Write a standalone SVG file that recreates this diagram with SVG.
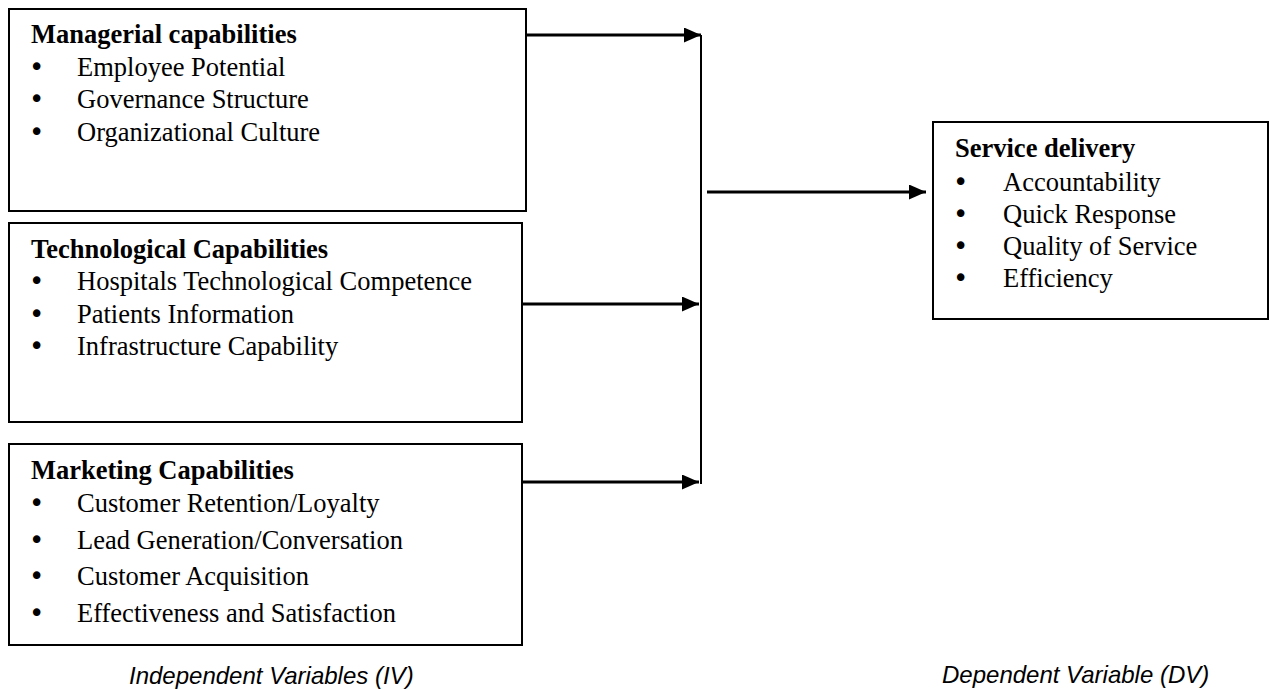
<svg xmlns="http://www.w3.org/2000/svg" width="1269" height="689" viewBox="0 0 1269 689">
<style>
.box{fill:#fff;stroke:#000;stroke-width:2}
.t{font-family:"Liberation Serif","Times New Roman",serif;font-size:26.5px;fill:#000}
.b{font-weight:bold}
.bu{font-family:"DejaVu Sans",sans-serif;font-size:26px;fill:#000}
.cap{font-family:"Liberation Sans",Arial,sans-serif;font-size:24px;font-style:italic;fill:#000}
.c{stroke:#000;stroke-width:3;fill:none}
.v{stroke:#000;stroke-width:2;fill:none}
</style>
<defs>
<marker id="ah" markerUnits="userSpaceOnUse" markerWidth="17" markerHeight="15" refX="17" refY="7.5" orient="auto">
<path d="M0,0 L17,7.5 L0,15 Z" fill="#000"/>
</marker>
</defs>
<rect width="1269" height="689" fill="#fff"/>
<g id="managerial">
<rect class="box" x="9" y="9" width="517" height="202"/>
<text class="t b" x="31" y="43">Managerial capabilities</text>
<text class="bu" x="29" y="76">•</text><text class="t" x="77" y="76">Employee Potential</text>
<text class="bu" x="29" y="108">•</text><text class="t" x="77" y="108">Governance Structure</text>
<text class="bu" x="29" y="141">•</text><text class="t" x="77" y="141">Organizational Culture</text>
</g>
<g id="technological">
<rect class="box" x="9" y="223" width="513" height="199"/>
<text class="t b" x="31" y="258">Technological Capabilities</text>
<text class="bu" x="29" y="290">•</text><text class="t" x="77" y="290">Hospitals Technological Competence</text>
<text class="bu" x="29" y="323">•</text><text class="t" x="77" y="323">Patients Information</text>
<text class="bu" x="29" y="355">•</text><text class="t" x="77" y="355">Infrastructure Capability</text>
</g>
<g id="marketing">
<rect class="box" x="9" y="444" width="513" height="201"/>
<text class="t b" x="31" y="479">Marketing Capabilities</text>
<text class="bu" x="29" y="512">•</text><text class="t" x="77" y="512">Customer Retention/Loyalty</text>
<text class="bu" x="29" y="549">•</text><text class="t" x="77" y="549">Lead Generation/Conversation</text>
<text class="bu" x="29" y="585">•</text><text class="t" x="77" y="585">Customer Acquisition</text>
<text class="bu" x="29" y="622">•</text><text class="t" x="77" y="622">Effectiveness and Satisfaction</text>
</g>
<g id="service">
<rect class="box" x="933" y="122" width="335" height="197"/>
<text class="t b" x="955" y="157">Service delivery</text>
<text class="bu" x="953" y="191">•</text><text class="t" x="1003" y="191">Accountability</text>
<text class="bu" x="953" y="223">•</text><text class="t" x="1003" y="223">Quick Response</text>
<text class="bu" x="953" y="255">•</text><text class="t" x="1003" y="255">Quality of Service</text>
<text class="bu" x="953" y="287">•</text><text class="t" x="1003" y="287">Efficiency</text>
</g>
<g id="connectors">
<line class="c" x1="526" y1="35" x2="701" y2="35" marker-end="url(#ah)"/>
<line class="c" x1="522" y1="304" x2="699" y2="304" marker-end="url(#ah)"/>
<line class="c" x1="522" y1="482" x2="699" y2="482" marker-end="url(#ah)"/>
<line class="v" x1="701" y1="35" x2="701" y2="484"/>
<line class="c" x1="707" y1="192" x2="926" y2="192" marker-end="url(#ah)"/>
</g>
<text class="cap" x="129" y="684">Independent Variables (IV)</text>
<text class="cap" x="942" y="683">Dependent Variable (DV)</text>
</svg>
